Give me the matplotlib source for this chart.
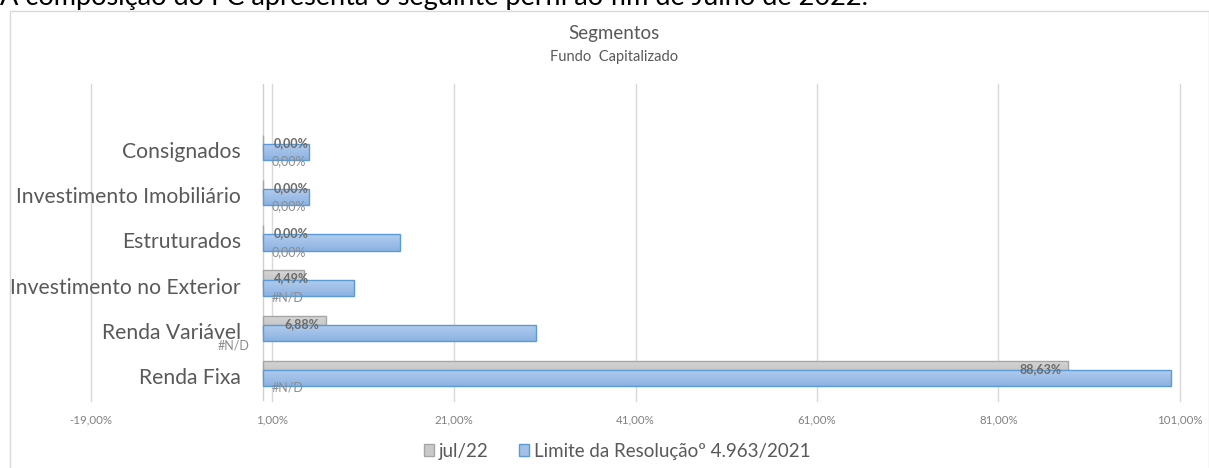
import matplotlib
matplotlib.use("Agg")
import matplotlib.pyplot as plt
import matplotlib.transforms as mtransforms
from matplotlib.patches import Patch
from matplotlib.colors import LinearSegmentedColormap
import numpy as np

plt.rcParams['font.family'] = ['Lato', 'DejaVu Sans']

# ---- data ----
categories = ["Renda Fixa", "Renda Variável", "Investimento no Exterior",
              "Estruturados", "Investimento Imobiliário", "Consignados"]
jul22 = [88.63, 6.88, 4.49, 0.00, 0.00, 0.00]
limite = [100.0, 30.0, 10.0, 15.0, 5.0, 5.0]
third_labels = ["#N/D", "#N/D", "#N/D", "0,00%", "0,00%", "0,00%"]
xticks = [-19, 1, 21, 41, 61, 81, 101]
series_names = ["jul/22", "Limite da Resoluçãoº 4.963/2021"]
title = "Segmentos"
subtitle = "Fundo  Capitalizado"
header = "A composição do FC apresenta o seguinte perfil ao fim de Julho de 2022."

W, H = 1209, 468
fig = plt.figure(figsize=(W / 100, H / 100), dpi=100)

def fx(px):
    return px / W

def fy(py):
    return 1 - py / H

# chart frame
fig.patches.append(plt.Rectangle((fx(9.5), fy(480)), fx(1199), fy(11.5) - fy(480),
                                 transform=fig.transFigure, fill=False,
                                 edgecolor="#d9d9d9", linewidth=1.0))

# header text (cut off at top)
fig.text(fx(0), fy(5.5), header, fontsize=19.5, color="#000000",
         ha="left", va="baseline")

ax = fig.add_axes([fx(91), fy(401), fx(1180) - fx(91), fy(84) - fy(401)])
for s in ax.spines.values():
    s.set_visible(False)

for t in xticks:
    ax.axvline(t, color="#d9d9d9", linewidth=1.0, zorder=0, clip_on=False)
ax.axvline(0, color="#d0d0d0", linewidth=1.0, zorder=0.5)

y = np.arange(len(categories))
off = 0.205
h = 0.355
gray_bars = ax.barh(y + off, jul22, height=h, color="none", edgecolor="#a6a6a6",
                    linewidth=1.0, zorder=2.2)
blue_bars = ax.barh(y, limite, height=h, color="none", edgecolor="#5b9bd5",
                    linewidth=1.0, zorder=3.2)

gray_cmap = LinearSegmentedColormap.from_list("g", ["#bdbdbd", "#d6d6d6"])
blue_cmap = LinearSegmentedColormap.from_list("b", ["#8cb2e2", "#b3cdee"])
grad = np.linspace(0, 1, 64).reshape(-1, 1)
for bars, cmap, z in ((gray_bars, gray_cmap, 2.0), (blue_bars, blue_cmap, 3.0)):
    for p in bars.patches:
        x0, y0 = p.get_x(), p.get_y()
        w_, h_ = p.get_width(), p.get_height()
        if w_ <= 0:
            continue
        im = ax.imshow(grad, extent=(x0, x0 + w_, y0, y0 + h_), origin="lower",
                       cmap=cmap, aspect="auto", zorder=z, interpolation="bilinear")
        im.set_clip_path(p)

ax.set_xlim(xticks[0], xticks[-1])
ax.set_ylim(-0.5, len(categories) + 0.5)

def fmt(v):
    return f"{v:.2f}%".replace(".", ",")

for yi, v in zip(y, jul22):
    ax.text(max(v - 0.7, 5.0), yi + off, fmt(v), ha="right", va="center",
            fontsize=9, fontweight="bold", color="#6b6b6b", zorder=5)

for yi, lab in zip(y, third_labels):
    xpos = 0.9
    dy = 0
    if categories[yi] == "Renda Variável":
        xpos = -5.0
        dy = -0.06
    ax.text(xpos, yi - off + dy, lab, ha="left", va="center",
            fontsize=9, color="#8c8c8c", zorder=5)

ax.set_xticks(xticks)
ax.set_xticklabels([fmt(t) for t in xticks], fontsize=8.3, color="#808080")
ax.tick_params(axis="x", length=0, pad=10)
ax.set_yticks([])

# category labels, right aligned at fixed pixel x
trans = mtransforms.blended_transform_factory(fig.transFigure, ax.transData)
for yi, c in zip(y, categories):
    ax.text(fx(241), yi, c, transform=trans, ha="right", va="center",
            fontsize=15.2, color="#595959", clip_on=False)

fig.text(0.508, fy(34), title, fontsize=13.5, color="#595959", ha="center", va="center")
fig.text(0.508, fy(57), subtitle, fontsize=10.5, color="#595959", ha="center", va="center")

handles = [Patch(facecolor="#c9c9c9", edgecolor="#a6a6a6"),
           Patch(facecolor="#a3c1e7", edgecolor="#5b9bd5")]
leg = fig.legend(handles, series_names, loc="center", bbox_to_anchor=(fx(617), fy(451)),
                 ncol=2, frameon=False, fontsize=13.5, handlelength=0.55, handleheight=0.55,
                 handletextpad=0.25, columnspacing=1.6, labelcolor="#595959")

fig.savefig("out.png", dpi=100)
